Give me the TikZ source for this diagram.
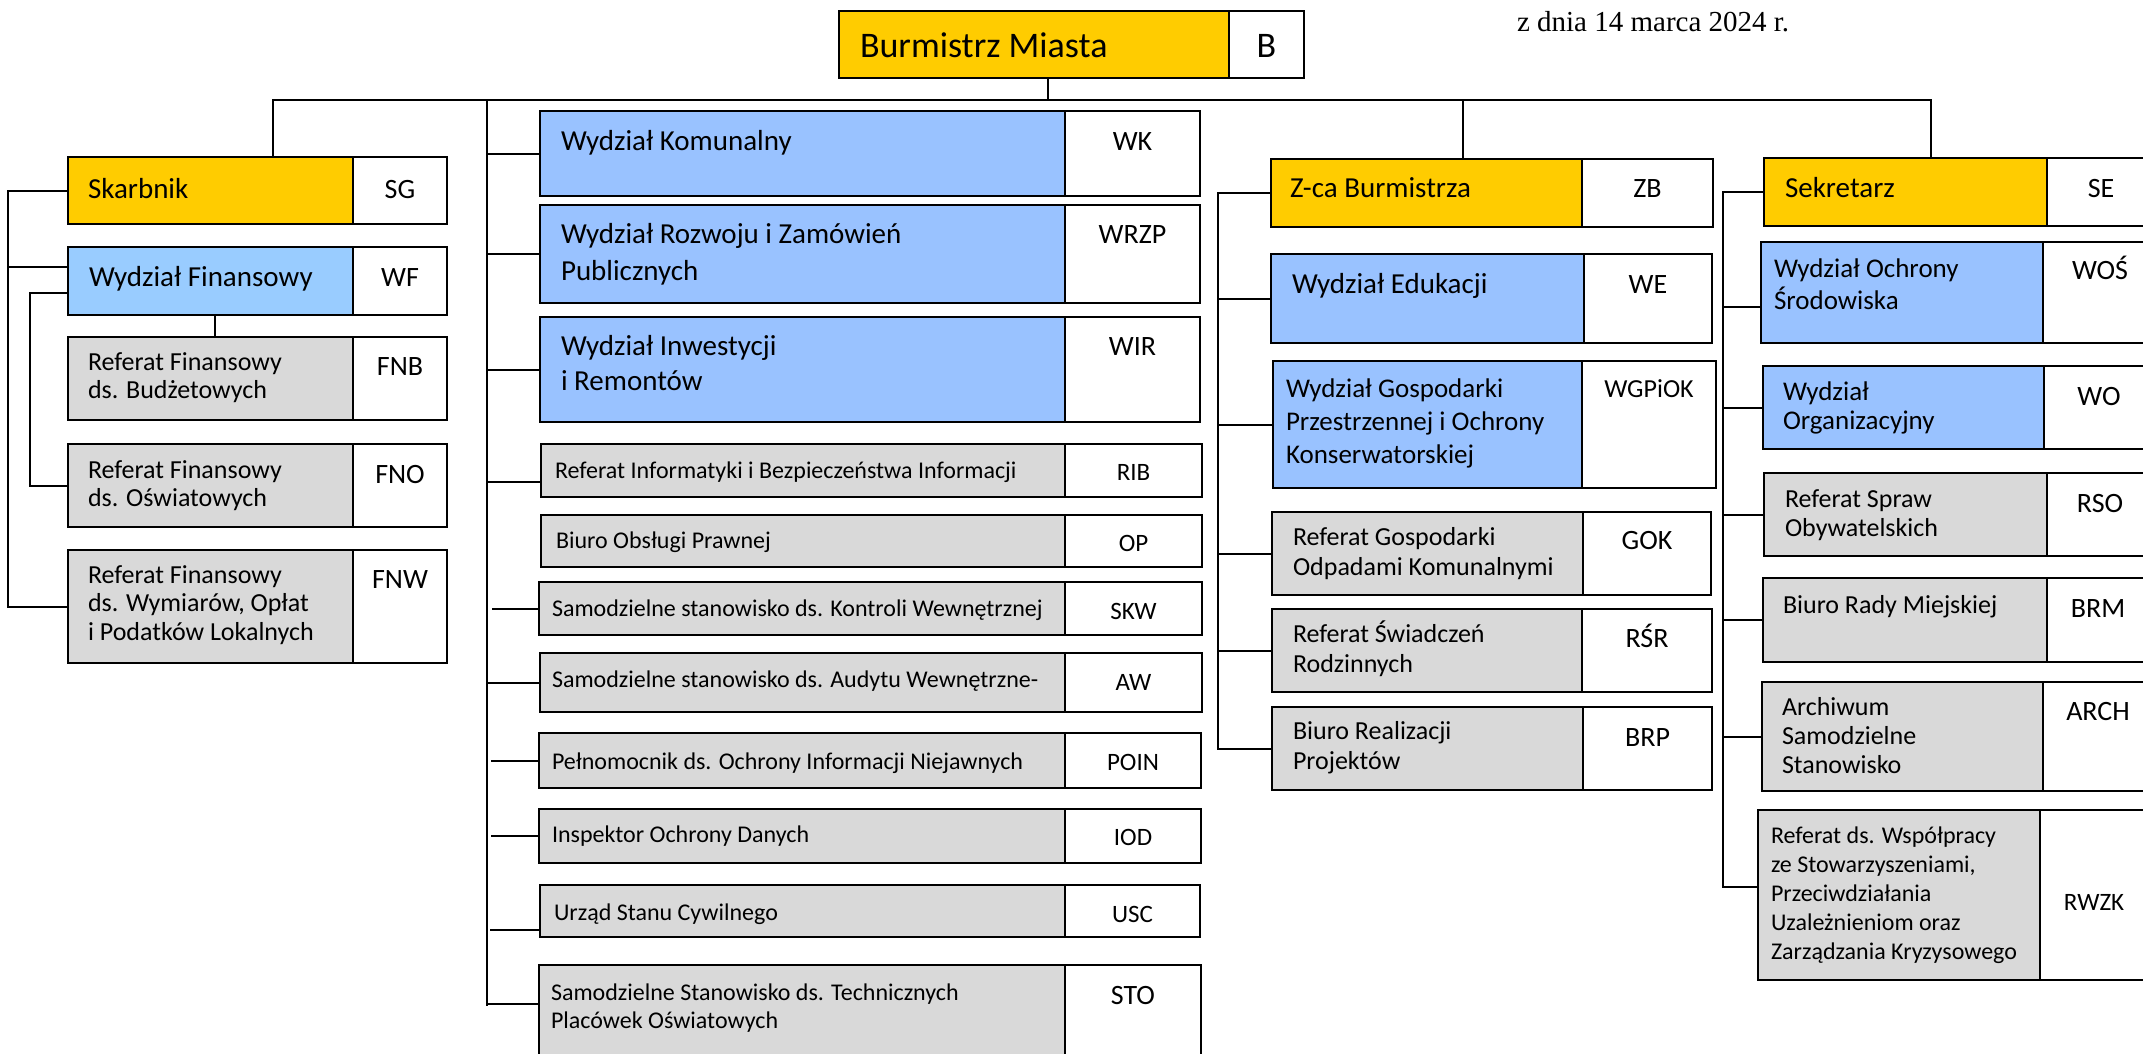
\documentclass[tikz,border=0pt]{standalone}
\usepackage{fontspec}
\setmainfont{Carlito}
\newfontfamily\datefont{Liberation Serif}
\usetikzlibrary{calc}
\definecolor{yel}{HTML}{FFCC00}
\definecolor{blu}{HTML}{99C2FF}
\definecolor{bluwf}{HTML}{99CCFF}
\definecolor{gry}{HTML}{D9D9D9}
\newcommand\setfs[2]{\fontsize{#1pt}{#2pt}\selectfont}
\newcommand\mlines[1]{\vtop{\lineskiplimit=-1000pt\relax\let\\\cr\halign{##\hfil\cr#1\crcr}}}
\tikzset{
  obox/.style={draw=black, line width=2.5pt, inner sep=0pt, outer sep=0pt, anchor=north west},
  conn/.style={draw=black, line width=2pt},
  ltext/.style={anchor=base west, inner sep=0pt, outer sep=0pt},
  ctext/.style={anchor=base, inner sep=0pt, outer sep=0pt},
}
% name, fill, x, y, main width, code width, height
\newcommand\unitbox[7]{%
  \node[obox, fill=#2, minimum width=#5pt, minimum height=#7pt] (#1) at (#3,#4) {};
  \node[obox, fill=white, minimum width=#6pt, minimum height=#7pt] (#1c) at (#1.north east) {};
}
\begin{document}
\begin{tikzpicture}[x=1pt,y=-1pt]
\useasboundingbox (0,0) rectangle (2143,1053);
\fill[white] (0,0) rectangle (2143,1053);
\clip (0,0) rectangle (2143,1053);

% ---------- top ----------
\unitbox{bm}{yel}{839}{11}{390}{75}{67}
\node[ltext, font=\setfs{36}{44}] (bmt) at (860,57) {Burmistrz Miasta};
\node[ctext, font=\setfs{36}{44}] (bmct) at (bmc.center |- 0,57) {B};
\node[ltext, font=\datefont\setfs{29}{34}] (date) at (1517,31) {z dnia 14 marca 2024 r.};

% ---------- left column ----------
\unitbox{sk}{yel}{68}{157}{285}{94}{67}
\node[ltext, font=\setfs{29}{36}] (skt) at (88,198) {Skarbnik};
\node[ctext, font=\setfs{28}{34}] (skct) at (skc.center |- 0,198) {SG};

\unitbox{wf}{bluwf}{68}{247}{285}{94}{68}
\node[ltext, font=\setfs{29}{36}] (wft) at (89,286) {Wydział Finansowy};
\node[ctext, font=\setfs{28}{34}] (wfct) at (wfc.center |- 0,286) {WF};

\unitbox{fnb}{gry}{68}{337}{285}{94}{83}
\node[ltext, font=\setfs{26}{28}] (fnbt) at (88,370) {\mlines{Referat Finansowy\\ds. Budżetowych}};
\node[ctext, font=\setfs{28}{34}] (fnbct) at (fnbc.center |- 0,375) {FNB};

\unitbox{fno}{gry}{68}{444}{285}{94}{83}
\node[ltext, font=\setfs{26}{28}] (fnot) at (88,478) {\mlines{Referat Finansowy\\ds. Oświatowych}};
\node[ctext, font=\setfs{28}{34}] (fnoct) at (fnoc.center |- 0,483) {FNO};

\unitbox{fnw}{gry}{68}{550}{285}{94}{113}
\node[ltext, font=\setfs{26}{28.5}] (fnwt) at (88,583) {\mlines{Referat Finansowy\\ds. Wymiarów, Opłat\\i Podatków Lokalnych}};
\node[ctext, font=\setfs{28}{34}] (fnwct) at (fnwc.center |- 0,588) {FNW};

% ---------- centre column ----------
\unitbox{wk}{blu}{540}{111}{525}{135}{85}
\node[ltext, font=\setfs{29}{37}] (wkt) at (561,150) {Wydział Komunalny};
\node[ctext, font=\setfs{28}{34}] (wkct) at (wkc.center |- 0,150) {WK};

\unitbox{wrzp}{blu}{540}{205}{525}{135}{98}
\node[ltext, font=\setfs{29}{37}] (wrzpt) at (561,243) {\mlines{Wydział Rozwoju i Zamówień\\Publicznych}};
\node[ctext, font=\setfs{28}{34}] (wrzpct) at (wrzpc.center |- 0,243) {WRZP};

\unitbox{wir}{blu}{540}{317}{525}{135}{105}
\node[ltext, font=\setfs{29}{35}] (wirt) at (561,355) {\mlines{Wydział Inwestycji\\i Remontów}};
\node[ctext, font=\setfs{28}{34}] (wirct) at (wirc.center |- 0,355) {WIR};

\unitbox{rib}{gry}{541}{444}{524}{137}{53}
\node[ltext, font=\setfs{24}{29}] (ribt) at (555,478) {Referat Informatyki i Bezpieczeństwa Informacji};
\node[ctext, font=\setfs{25}{30}] (ribct) at (ribc.center |- 0,480) {RIB};

\unitbox{op}{gry}{541}{515}{524}{137}{52}
\node[ltext, font=\setfs{24}{29}] (opt) at (556,548) {Biuro Obsługi Prawnej};
\node[ctext, font=\setfs{25}{30}] (opct) at (opc.center |- 0,551) {OP};

\unitbox{skw}{gry}{539}{582}{526}{137}{53}
\node[ltext, font=\setfs{24}{29}] (skwt) at (552,616) {Samodzielne stanowisko ds. Kontroli Wewnętrznej};
\node[ctext, font=\setfs{25}{30}] (skwct) at (skwc.center |- 0,619) {SKW};

\unitbox{aw}{gry}{540}{653}{525}{137}{59}
\node[ltext, font=\setfs{24}{29}] (awt) at (552,687) {Samodzielne stanowisko ds. Audytu Wewnętrzne-};
\node[ctext, font=\setfs{25}{30}] (awct) at (awc.center |- 0,690) {AW};

\unitbox{poin}{gry}{539}{733}{526}{136}{55}
\node[ltext, font=\setfs{24}{29}] (point) at (552,769) {Pełnomocnik ds. Ochrony Informacji Niejawnych};
\node[ctext, font=\setfs{25}{30}] (poinct) at (poinc.center |- 0,770) {POIN};

\unitbox{iod}{gry}{539}{809}{526}{136}{54}
\node[ltext, font=\setfs{24}{29}] (iodt) at (552,842) {Inspektor Ochrony Danych};
\node[ctext, font=\setfs{25}{30}] (iodct) at (iodc.center |- 0,845) {IOD};

\unitbox{usc}{gry}{540}{885}{525}{135}{52}
\node[ltext, font=\setfs{24}{29}] (usct) at (554,920) {Urząd Stanu Cywilnego};
\node[ctext, font=\setfs{25}{30}] (uscct) at (uscc.center |- 0,922) {USC};

\unitbox{sto}{gry}{539}{965}{526}{136}{110}
\node[ltext, font=\setfs{24}{28.5}] (stot) at (551,1000) {\mlines{Samodzielne Stanowisko ds. Technicznych\\Placówek Oświatowych}};
\node[ctext, font=\setfs{28}{34}] (stoct) at (stoc.center |- 0,1004) {STO};

% ---------- Z-ca column ----------
\unitbox{zb}{yel}{1271}{159}{311}{131}{68}
\node[ltext, font=\setfs{29}{36}] (zbt) at (1290,197) {Z-ca Burmistrza};
\node[ctext, font=\setfs{28}{34}] (zbct) at (zbc.center |- 0,197) {ZB};

\unitbox{we}{blu}{1271}{254}{313}{128}{89}
\node[ltext, font=\setfs{29}{36}] (wet) at (1292,293) {Wydział Edukacji};
\node[ctext, font=\setfs{28}{34}] (wect) at (wec.center |- 0,293) {WE};

\unitbox{wgp}{blu}{1273}{361}{309}{134}{127}
\node[ltext, font=\setfs{27}{33}] (wgpt) at (1286,397) {\mlines{Wydział Gospodarki\\Przestrzennej i Ochrony\\Konserwatorskiej}};
\node[ctext, font=\setfs{26}{32}] (wgpct) at (wgpc.center |- 0,397) {WGPiOK};

\unitbox{gok}{gry}{1272}{512}{311}{128}{83}
\node[ltext, font=\setfs{26}{30}] (gokt) at (1293,545) {\mlines{Referat Gospodarki\\Odpadami Komunalnymi}};
\node[ctext, font=\setfs{28}{34}] (gokct) at (gokc.center |- 0,549) {GOK};

\unitbox{rsr}{gry}{1272}{609}{310}{130}{83}
\node[ltext, font=\setfs{26}{30}] (rsrt) at (1293,642) {\mlines{Referat Świadczeń\\Rodzinnych}};
\node[ctext, font=\setfs{28}{34}] (rsrct) at (rsrc.center |- 0,647) {RŚR};

\unitbox{brp}{gry}{1272}{707}{311}{129}{83}
\node[ltext, font=\setfs{26}{30}] (brpt) at (1293,739) {\mlines{Biuro Realizacji\\Projektów}};
\node[ctext, font=\setfs{28}{34}] (brpct) at (brpc.center |- 0,746) {BRP};

% ---------- Sekretarz column ----------
\unitbox{sec}{yel}{1764}{158}{283}{108}{68}
\node[ltext, font=\setfs{29}{36}] (sect) at (1785,197) {Sekretarz};
\node[ctext, font=\setfs{28}{34}] (secct) at (secc.center |- 0,197) {SE};

\unitbox{wos}{blu}{1761}{242}{282}{114}{101}
\node[ltext, font=\setfs{27}{32}] (wost) at (1774,277) {\mlines{Wydział Ochrony\\Środowiska}};
\node[ctext, font=\setfs{28}{34}] (wosct) at (wosc.center |- 0,279) {WOŚ};

\unitbox{wo}{blu}{1763}{366}{281}{110}{83}
\node[ltext, font=\setfs{27}{29}] (wot) at (1783,400) {\mlines{Wydział\\Organizacyjny}};
\node[ctext, font=\setfs{28}{34}] (woct) at (woc.center |- 0,405) {WO};

\unitbox{rso}{gry}{1764}{473}{283}{106}{83}
\node[ltext, font=\setfs{26}{29}] (rsot) at (1785,507) {\mlines{Referat Spraw\\Obywatelskich}};
\node[ctext, font=\setfs{28}{34}] (rsoct) at (rsoc.center |- 0,512) {RSO};

\unitbox{brm}{gry}{1763}{578}{284}{102}{84}
\node[ltext, font=\setfs{26}{29}] (brmt) at (1783,613) {Biuro Rady Miejskiej};
\node[ctext, font=\setfs{28}{34}] (brmct) at (brmc.center |- 0,617) {BRM};

\unitbox{arch}{gry}{1762}{682}{281}{110}{109}
\node[ltext, font=\setfs{26}{29}] (archt) at (1782,715) {\mlines{Archiwum\\Samodzielne\\Stanowisko}};
\node[ctext, font=\setfs{28}{34}] (archct) at (archc.center |- 0,720) {ARCH};

\unitbox{rwzk}{gry}{1758}{810}{282}{108}{170}
\node[ltext, font=\setfs{24}{29.2}] (rwzkt) at (1771,843) {\mlines{Referat ds. Współpracy\\ze Stowarzyszeniami,\\Przeciwdziałania\\Uzależnieniom oraz\\Zarządzania Kryzysowego}};
\node[ctext, font=\setfs{25}{30}] (rwzkct) at (rwzkc.center |- 0,910) {RWZK};

% ---------- connectors ----------
\coordinate (busL) at (273,100);
\coordinate (busR) at (1931,100);
\coordinate (busB) at (1048,100);
\coordinate (busZ) at (1463,100);
\draw[conn] (busL |- sk.north) -- (busL) -- (busR) -- (busR |- sec.north);
\draw[conn] (busB) -- (busB |- bm.south);
\draw[conn] (busZ) -- (busZ |- zb.north);

% left
\coordinate (lspA) at (8,0);
\coordinate (lspB) at (30,0);
\coordinate (wfa) at ($(wf.north west)+(0,20)$);
\coordinate (wfb) at ($(wf.north west)+(0,46)$);
\coordinate (wfd) at (215,0);
\draw[conn] (sk.west) -- (sk.west -| lspA) -- (fnw.west -| lspA) -- (fnw.west);
\draw[conn] (wfa -| lspA) -- (wfa);
\draw[conn] (wfb) -- (wfb -| lspB) -- (fno.west -| lspB) -- (fno.west);
\draw[conn] (wf.south -| wfd) -- (fnb.north -| wfd);

% centre
\coordinate (spC) at (487,100);
\coordinate (spCe) at (487,1006);
\draw[conn] (spC) -- (spCe);
\draw[conn] (spC |- wk.west) -- (wk.west);
\draw[conn] (spC |- wrzp.west) -- (wrzp.west);
\draw[conn] (spC |- wir.west) -- (wir.west);
\coordinate (ribk) at ($(rib.north west)+(0,38)$);
\draw[conn] (spC |- ribk) -- (ribk);
\draw[conn] ($(spC |- skw.west)+(5,0)$) -- (skw.west);
\draw[conn] (spC |- aw.west) -- (aw.west);
\draw[conn] ($(spC |- poin.west)+(4,0)$) -- (poin.west);
\draw[conn] ($(spC |- iod.west)+(4,0)$) -- (iod.west);
\coordinate (usck) at ($(usc.north west)+(0,45)$);
\draw[conn] ($(spC |- usck)+(3,0)$) -- (usck);
\coordinate (stok) at ($(sto.north west)+(0,39)$);
\draw[conn] (spC |- stok) -- (stok);

% Z-ca
\coordinate (spZ) at (1218,0);
\draw[conn] (zb.west) -- (zb.west -| spZ) -- (brp.west -| spZ) -- (brp.west);
\draw[conn] (spZ |- we.west) -- (we.west);
\draw[conn] (spZ |- wgp.west) -- (wgp.west);
\draw[conn] (spZ |- gok.west) -- (gok.west);
\draw[conn] (spZ |- rsr.west) -- (rsr.west);

% Sekretarz
\coordinate (spS) at (1723,0);
\coordinate (rwzkk) at ($(rwzk.north west)+(0,77)$);
\coordinate (wosk) at ($(wos.north west)+(0,65)$);
\draw[conn] (sec.west) -- (sec.west -| spS) -- (rwzkk -| spS) -- (rwzkk);
\draw[conn] (spS |- wosk) -- (wosk);
\draw[conn] (spS |- wo.west) -- (wo.west);
\draw[conn] (spS |- rso.west) -- (rso.west);
\draw[conn] (spS |- brm.west) -- (brm.west);
\draw[conn] (spS |- arch.west) -- (arch.west);
\end{tikzpicture}
\end{document}
